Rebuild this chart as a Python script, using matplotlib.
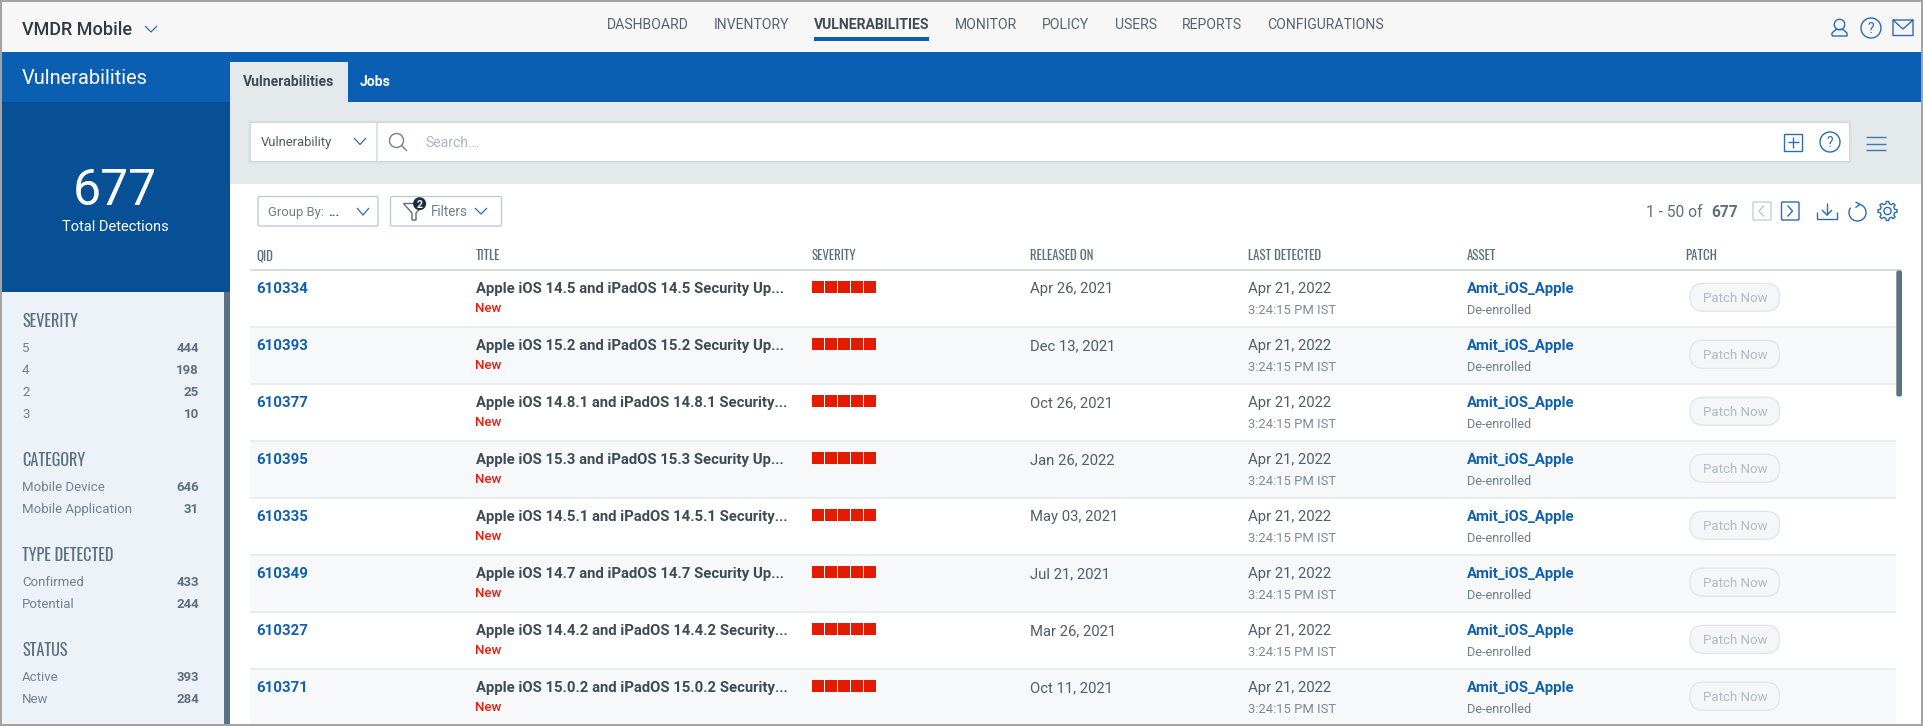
#!/usr/bin/env python3
"""VMDR Mobile vulnerabilities page, drawn on one pixel-coordinate axes."""

import matplotlib
matplotlib.use("Agg")
import matplotlib.pyplot as plt
import numpy as np
from matplotlib.patches import Arc, Circle, FancyBboxPatch, Polygon, Rectangle

W, H = 1923, 726

NAV_ITEMS = ["DASHBOARD", "INVENTORY", "VULNERABILITIES", "MONITOR", "POLICY",
             "USERS", "REPORTS", "CONFIGURATIONS"]
NAV_X = [607, 713.5, 813.5, 954.5, 1042, 1114.5, 1182, 1267]

COLUMNS = ["QID", "TITLE", "SEVERITY", "RELEASED ON", "LAST DETECTED", "ASSET", "PATCH"]
COLUMN_X = [256.5, 475.5, 811.5, 1029.5, 1248, 1466.5, 1685]

QIDS = ["610334", "610393", "610377", "610395", "610335", "610349", "610327", "610371"]
TITLES = [
    "Apple iOS 14.5 and iPadOS 14.5 Security Up...",
    "Apple iOS 15.2 and iPadOS 15.2 Security Up...",
    "Apple iOS 14.8.1 and iPadOS 14.8.1 Security...",
    "Apple iOS 15.3 and iPadOS 15.3 Security Up...",
    "Apple iOS 14.5.1 and iPadOS 14.5.1 Security...",
    "Apple iOS 14.7 and iPadOS 14.7 Security Up...",
    "Apple iOS 14.4.2 and iPadOS 14.4.2 Security...",
    "Apple iOS 15.0.2 and iPadOS 15.0.2 Security...",
]
SEVERITIES = [5, 5, 5, 5, 5, 5, 5, 5]
RELEASED = ["Apr 26, 2021", "Dec 13, 2021", "Oct 26, 2021", "Jan 26, 2022",
            "May 03, 2021", "Jul 21, 2021", "Mar 26, 2021", "Oct 11, 2021"]
LAST_DATE = "Apr 21, 2022"
LAST_TIME = "3:24:15 PM IST"
ASSET = "Amit_iOS_Apple"
ASSET_STATE = "De-enrolled"

SEVERITY_LABELS = ["5", "4", "2", "3"]
SEVERITY_COUNTS = [444, 198, 25, 10]
CATEGORY_LABELS = ["Mobile Device", "Mobile Application"]
CATEGORY_COUNTS = [646, 31]
TYPE_LABELS = ["Confirmed", "Potential"]
TYPE_COUNTS = [433, 244]
STATUS_LABELS = ["Active", "New"]
STATUS_COUNTS = [393, 284]
TOTAL = 677

BLUE = "#0b5fb3"
LINK = "#1160b0"
ICON = "#2a6cb5"
DARK = "#3d4b56"
GREY = "#72828f"
NARROW = ["Oswald", "Roboto Condensed", "Roboto"]

plt.rcParams["font.family"] = ["Roboto", "DejaVu Sans"]

fig = plt.figure(figsize=(W / 100, H / 100), dpi=100, facecolor="white")
ax = fig.add_axes([0, 0, 1, 1])
ax.set_xlim(0, W)
ax.set_ylim(H, 0)
ax.axis("off")


def put(x, y, s, px, color=DARK, cap=0.355, **kw):
    # y is the middle of the capitals, size is given in image pixels
    ax.text(x, y + cap * px, s, fontsize=px * 0.72, color=color, va="baseline", **kw)


def box(x0, y0, x1, y1, color, z=1, **kw):
    ax.add_patch(Rectangle((x0, y0), x1 - x0, y1 - y0, facecolor=color,
                           edgecolor="none", zorder=z, **kw))


def line(xs, ys, color=ICON, lw=1.0, z=5):
    ax.plot(xs, ys, color=color, lw=lw, zorder=z, solid_capstyle="butt")


def rounded(x0, y0, x1, y1, r, face, edge, lw=1.0, z=3):
    ax.add_patch(FancyBboxPatch((x0 + r, y0 + r), x1 - x0 - 2 * r, y1 - y0 - 2 * r,
                                boxstyle=f"round,pad={r},rounding_size={r}",
                                facecolor=face, edgecolor=edge, lw=lw, zorder=z))


def chevron(x0, x1, y0, y1, color=ICON, lw=0.9):
    line([x0, (x0 + x1) / 2, x1], [y0, y1, y0], color, lw)


def help_icon(cx, cy, r=10):
    ax.add_patch(Circle((cx, cy), r, facecolor="none", edgecolor=ICON, lw=1.0, zorder=5))
    ax.text(cx, cy + 5, "?", fontsize=10, color=ICON, ha="center", va="baseline", zorder=6)


def gear(cx, cy, r_out, r_in, r_hole, teeth=8):
    # outline alternates between tooth tip and the valley between teeth
    angles, radii = [], []
    step = 2 * np.pi / teeth
    for k in range(teeth):
        a = k * step
        angles += [a - 0.30 * step, a - 0.16 * step, a + 0.16 * step, a + 0.30 * step]
        radii += [r_in, r_out, r_out, r_in]
    pts = np.column_stack([cx + np.array(radii) * np.cos(angles),
                           cy + np.array(radii) * np.sin(angles)])
    ax.add_patch(Polygon(pts, closed=True, facecolor="none", edgecolor=ICON, lw=1.0, zorder=5))
    ax.add_patch(Circle((cx, cy), r_hole, facecolor="none", edgecolor=ICON, lw=1.0, zorder=5))


def side_section(title, y, labels, counts, first_y):
    put(22, y, title, 16.2, color="#5c6f7d", cap=0.42, family=NARROW, fontweight="light")
    for i, (label, count) in enumerate(zip(labels, counts)):
        row_y = first_y + 22 * i
        put(22, row_y, label, 13.2, color=GREY)
        put(199, row_y, str(count), 13.2, color="#5f6f7c", ha="right", fontweight="bold")


# page frame
box(0, 0, W, H, "white", z=0)

# top header
box(2, 2, 1921, 52, "#f7f7f7")
put(22, 28.5, "VMDR Mobile", 18, color="#2e3a44", fontweight="medium")
chevron(145, 157, 26, 32)
for label, x in zip(NAV_ITEMS, NAV_X):
    active = label == "VULNERABILITIES"
    put(x, 24.5, label, 14, color=DARK if active else "#55636e",
        fontweight="bold" if active else "normal")
box(814, 37, 929, 41, BLUE)

# top right icons
ax.add_patch(Circle((1839.5, 24.5), 5.2, facecolor="none", edgecolor=ICON, lw=1.0, zorder=5))
line([1832, 1832, 1836, 1843, 1847, 1847, 1832], [36, 33, 29.5, 29.5, 33, 36, 36])
help_icon(1871, 28)
line([1893, 1913, 1913, 1893, 1893, 1903, 1913], [20, 20, 35.5, 35.5, 20, 29, 20])

# blue strip and tabs
box(2, 52, 1921, 102, BLUE)
box(230, 62, 348, 102, "#e4e9ec", z=2)
put(243, 81.5, "Vulnerabilities", 14, color=DARK, fontweight="bold")
put(360, 81.5, "Jobs", 14, color="white", fontweight="bold")

# left panel
put(22, 76.5, "Vulnerabilities", 20, color="white")
box(2, 102, 230, 292, "#085096", z=2)
ax.text(115, 205, str(TOTAL), fontsize=50 * 0.72, color="white", ha="center",
        va="baseline", zorder=3)
ax.text(115, 231, "Total Detections", fontsize=14.6 * 0.72, color="white", ha="center",
        va="baseline", zorder=3)
box(2, 292, 224, 724, "#edf2f9")
box(224, 292, 230, 724, "#5b7282", z=2)
side_section("SEVERITY", 320, SEVERITY_LABELS, SEVERITY_COUNTS, 347.5)
side_section("CATEGORY", 459, CATEGORY_LABELS, CATEGORY_COUNTS, 486.7)
side_section("TYPE DETECTED", 554, TYPE_LABELS, TYPE_COUNTS, 581.7)
side_section("STATUS", 649, STATUS_LABELS, STATUS_COUNTS, 676.7)

# search band, soft shadow around the box
box(230, 102, 1921, 184, "#e4e9ec")
for grow, alpha in zip([3, 2, 1], [0.02, 0.03, 0.04]):
    box(251 - grow, 123 - grow, 1849 + grow, 161 + grow, "#34454f", z=1.5, alpha=alpha)
box(251, 123, 1849, 161, "white", z=2)
line([376.5, 376.5], [123, 161], "#dde3e7", 1.4)
put(261, 141.7, "Vulnerability", 13, color="#4a5a66")
chevron(354, 366, 138, 144.5)
ax.add_patch(Circle((396.5, 140.5), 7, facecolor="none", edgecolor="#71828f", lw=1.0, zorder=5))
line([401.5, 407], [145.5, 151], "#71828f")
put(425, 141.7, "Search...", 14, color="#aab7bf")
ax.add_patch(Rectangle((1784, 133.5), 18, 17.5, facecolor="none", edgecolor=ICON, lw=1.0, zorder=5))
line([1787.5, 1798.5], [142.2, 142.2])
line([1793, 1793], [137, 147.5])
help_icon(1830, 142)
for y in [137, 143.5, 150]:
    line([1866, 1886], [y, y], "#3f78b8")

# toolbar
rounded(258, 196.5, 378, 226, 1.5, "white", "#c0cbd4")
put(268, 211, "Group By: ", 13, color="#6f7f8b")
put(328, 211, "...", 13, color="#4a5a66", fontweight="bold")
chevron(357, 369, 208, 215)
rounded(390.5, 196.5, 501.5, 226, 1.5, "white", "#c0cbd4")
ax.add_patch(Polygon([(403.5, 203.5), (424.5, 203.5), (416, 213), (416, 220),
                      (412, 220), (412, 213)], closed=True, facecolor="none",
                     edgecolor="#5c6f7d", lw=1.0, zorder=5))
ax.add_patch(Circle((419.6, 203.7), 6.5, facecolor="#1e2d3a", edgecolor="none", zorder=6))
ax.text(419.6, 207.5, "2", fontsize=7.5, color="white", ha="center", va="baseline",
        fontweight="bold", zorder=7)
put(431, 211.5, "Filters", 13.5, color="#6f7f8b")
chevron(475, 487, 208, 214)

put(1646, 211.7, "1 - 50 of", 15.5, color="#5f6f7c")
put(1711, 211.7, str(TOTAL), 15.5, color="#5f6f7c", fontweight="bold")
rounded(1753, 202, 1771, 220, 1, "white", "#c6d0d8")
line([1764, 1759, 1764], [205.5, 211, 216.5], "#b9c5cf")
rounded(1781.5, 202, 1799, 220, 1, "white", ICON)
line([1787.5, 1792.5, 1787.5], [205.5, 211, 216.5])
line([1817, 1817, 1837, 1837], [212, 218.5, 218.5, 212])
line([1827, 1827], [203, 215])
line([1822, 1827, 1832], [210, 215, 210])
# refresh: open ring with the arrow head at the top
ax.add_patch(Arc((1857.5, 212.5), 17, 17, theta1=-80, theta2=215, edgecolor=ICON, lw=1.0, zorder=5))
line([1855.5, 1860, 1855.5], [202, 204.5, 207.5])
gear(1887.5, 211, 9.6, 7.4, 3.6)

# table head
for label, x in zip(COLUMNS, COLUMN_X):
    put(x, 255, label, 12.9, color="#5c6f7d", cap=0.42, family=NARROW, fontweight="light")
line([250, 1902], [270.3, 270.3], "#cfd7dd", 1.2, z=2)

# rows
row_h = 57
for i, qid in enumerate(QIDS):
    top = 270.3 + row_h * i
    if i % 2 == 1:
        box(250, top, 1896, min(top + row_h, 724), "#f6f8fa")
    if i > 0:
        line([250, 1896], [top, top], "#e7ebef", 1.2, z=2)
    put(COLUMN_X[0], top + 17.4, qid, 15, color=LINK, fontweight="bold")
    put(COLUMN_X[1], top + 17.4, TITLES[i], 14.85, color=DARK, fontweight="bold")
    put(COLUMN_X[1], top + 37.4, "New", 13.2, color="#f01a0a", fontweight="medium")
    for k in range(SEVERITIES[i]):
        box(811.8 + 13 * k, top + 10.7, 811.8 + 13 * k + 12.4, top + 23, "#e31b00", z=3)
    put(COLUMN_X[3], top + 17.4, RELEASED[i], 14.9, color="#4f5e6a")
    put(COLUMN_X[4], top + 17.4, LAST_DATE, 14.9, color="#4f5e6a")
    put(COLUMN_X[4], top + 39, LAST_TIME, 13, color="#7b8a96")
    put(COLUMN_X[5], top + 17.4, ASSET, 14.85, color=LINK, fontweight="bold")
    put(COLUMN_X[5], top + 39, ASSET_STATE, 12.8, color="#6e7f8d")
    rounded(1690, top + 13, 1779.5, top + 41, 13.5, "#f4f6f8", "#e2e7eb")
    put(1735, top + 27, "Patch Now", 13.2, color="#b0bac2", ha="center", zorder=4)

# table scrollbar
rounded(1896.3, 270.5, 1902, 396.5, 2, "#5b7282", "none", lw=0, z=4)

# window border
box(0, 0, W, 2, "#a3a3a3", z=8)
box(0, H - 2, W, H, "#a3a3a3", z=8)
box(0, 0, 2, H, "#a3a3a3", z=8)
box(W - 2, 0, W, H, "#a3a3a3", z=8)

fig.savefig("out.png", dpi=100, facecolor="white")
